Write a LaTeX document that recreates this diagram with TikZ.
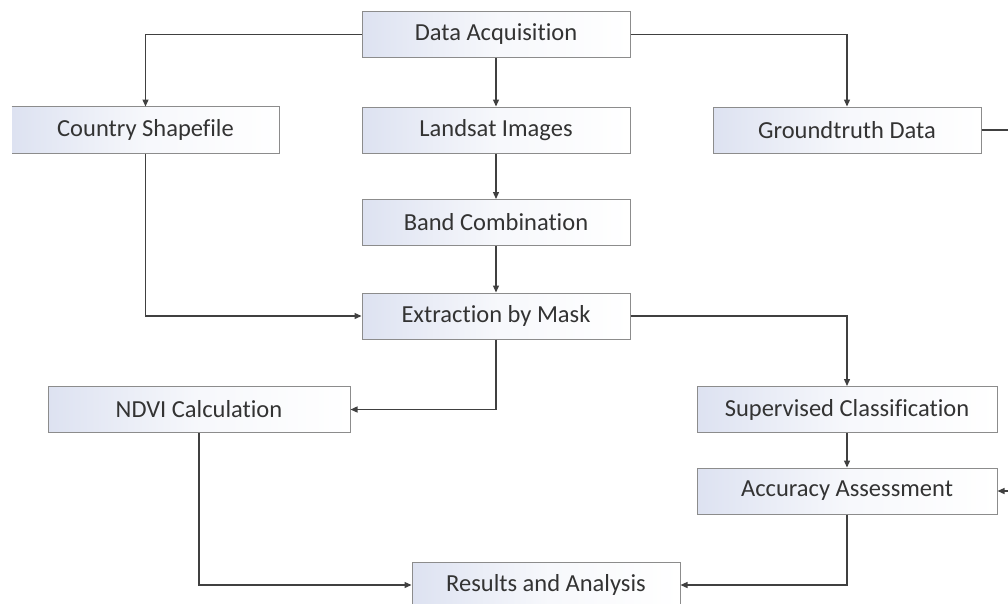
\documentclass[tikz,border=0pt]{standalone}
\usepackage{fontspec}
\setmainfont{Carlito}[Ligatures={NoCommon,NoContextual}]
\usetikzlibrary{arrows.meta}
\definecolor{boxline}{HTML}{8C8C8C}
\definecolor{boxl}{HTML}{DDE2F1}
\definecolor{txt}{HTML}{333333}
\definecolor{lnc}{HTML}{404040}
\begin{document}
\begin{tikzpicture}[x=1pt,y=-1pt,
  box/.style={draw=boxline, line width=1pt, left color=boxl, right color=white, middle color=boxl!25,
    text=txt, font=\fontsize{24.5}{28}\selectfont, inner sep=0pt, minimum height=46pt},
  nobox/.style={box, draw=none},
  conn/.style={draw=lnc, line width=1.3pt, -{Triangle[length=7pt,width=6pt]}},
  plain/.style={draw=lnc, line width=1.3pt}]
\useasboundingbox (0,0) rectangle (1008,603);
\clip (0,0) rectangle (1008,603);
\node[box, minimum width=268pt] (da) at (496,34.5) {Data Acquisition};
\node[nobox, minimum width=267pt] (cs) at (145.5,130) {Country Shapefile};
\draw[draw=boxline, line width=1pt] (cs.north west) -- (cs.north east) -- (cs.south east) -- (cs.south west);
\node[box, minimum width=268pt] (ls) at (496,130) {Landsat Images};
\node[box, minimum width=268pt] (gt) at (847,130) {Groundtruth Data};
\node[box, minimum width=268pt] (bc) at (496,222.5) {Band Combination};
\node[box, minimum width=268pt] (em) at (496,316) {Extraction by Mask};
\node[box, minimum width=302pt] (ndvi) at (199,409.5) {NDVI Calculation};
\node[box, minimum width=300pt] (sc) at (847,409.5) {Supervised Classification};
\node[box, minimum width=300pt] (aa) at (847,491) {Accuracy Assessment};
\node[box, minimum width=268pt] (ra) at (546,585) {Results and Analysis};
\coordinate (gtr) at (1030,130);
\draw[conn] (da.west) -| (cs.north);
\draw[conn] (da.south) -- (ls.north);
\draw[conn] (da.east) -| (gt.north);
\draw[conn] (ls.south) -- (bc.north);
\draw[conn] (bc.south) -- (em.north);
\draw[conn] (cs.south) |- (em.west);
\draw[conn] (em.south) |- (ndvi.east);
\draw[conn] (em.east) -| (sc.north);
\draw[conn] (sc.south) -- (aa.north);
\draw[plain] (gt.east) -- (gtr);
\draw[conn] (gtr) |- (aa.east);
\draw[conn] (ndvi.south) |- (ra.west);
\draw[conn] (aa.south) |- (ra.east);
\end{tikzpicture}
\end{document}
